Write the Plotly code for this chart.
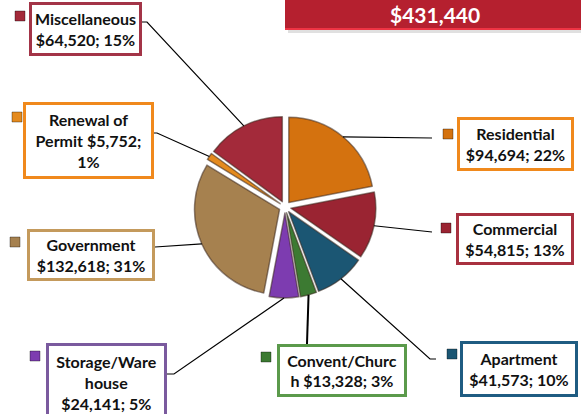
import math
import plotly.graph_objects as go

W, H = 581, 414

categories = ["Residential", "Commercial", "Apartment", "Convent/Church", "Storage/Warehouse",
              "Government", "Renewal of Permit", "Miscellaneous"]
values = [94694, 54815, 41573, 13328, 24141, 132618, 5752, 64520]
percents = [22, 13, 10, 3, 5, 31, 1, 15]
# label text as wrapped in the original data labels
label_lines = [
    ["Residential", "$94,694; 22%"],
    ["Commercial", "$54,815; 13%"],
    ["Apartment", "$41,573; 10%"],
    ["Convent/Churc", "h $13,328; 3%"],
    ["Storage/Ware", "house", "$24,141; 5%"],
    ["Government", "$132,618; 31%"],
    ["Renewal of", "Permit $5,752;", "1%"],
    ["Miscellaneous", "$64,520; 15%"],
]
total_label = "$431,440"

slice_colors = ["#D4720F", "#9A2432", "#1B5673", "#3C7A32", "#7D3CB0", "#A6814F", "#E48A1E", "#A32A3A"]
box_colors = ["#F0891C", "#A8313F", "#1F5C82", "#5B9A4B", "#7A5A9E", "#C49A5C", "#F0891C", "#A33447"]

# label placement in pixels: box (x0, y0, x1, y1), legend key centre, elbow points for the leader line
boxes = [(457, 117, 574, 171), (456, 213, 574, 265), (460, 341, 578, 397), (277, 344, 407, 397),
         (46, 343, 167, 422), (27, 229, 155, 281), (23, 102, 154, 179), (29, 2, 142, 56)]
keys = [(448, 134), (446, 228), (452, 354), (266, 357), (35, 356), (15, 242), (17, 117), (20, 16)]
elbows = [[(432, 138)], [(432, 232)], [(430, 359), (436, 359)], [(307, 344)],
          [(174, 374), (167, 374)], [(155, 247)], [(157, 133), (154, 133)], [(147, 22), (142, 22)]]

cx, cy, half = 285, 207, 91  # pie centre and outer radius in px


def px(x):
    return x / W


def py(y):
    return 1 - y / H


fig = go.Figure()
fig.add_trace(go.Pie(
    labels=categories, values=values, sort=False, direction="clockwise", rotation=0,
    pull=0.07, textinfo="none", showlegend=False,
    marker=dict(colors=slice_colors, line=dict(color="rgba(60,40,30,0.55)", width=1.5)),
    domain=dict(x=[px(cx - half), px(cx + half)], y=[py(cy + half), py(cy - half)]),
))

shapes = []
annotations = []
total = sum(values)
cum = 0
for i, v in enumerate(values):
    mid = (cum + v / 2) / total * 2 * math.pi
    cum += v
    sx = cx + half * math.sin(mid)
    sy = cy - half * math.cos(mid)
    pts = [(sx, sy)] + elbows[i]
    path = "M " + " L ".join(f"{px(x):.5f},{py(y):.5f}" for x, y in pts)
    shapes.append(dict(type="path", path=path, xref="paper", yref="paper",
                       line=dict(color="black", width=1.2 if i != 3 else 2)))

    x0, y0, x1, y1 = boxes[i]
    bw = 3
    annotations.append(dict(
        x=px((x0 + x1) / 2), y=py((y0 + y1) / 2), xref="paper", yref="paper",
        xanchor="center", yanchor="middle", showarrow=False,
        text="<br>".join(label_lines[i]), align="center",
        font=dict(family="Lato", size=16, color="#111111", weight="bold"),
        bgcolor="white", bordercolor=box_colors[i], borderwidth=bw, borderpad=0,
        width=x1 - x0 - 2 * bw, height=y1 - y0 - 2 * bw,
    ))

    kx, ky = keys[i]
    shapes.append(dict(type="rect", xref="paper", yref="paper",
                       x0=px(kx - 5), x1=px(kx + 5), y0=py(ky + 5), y1=py(ky - 5),
                       fillcolor=slice_colors[i], line=dict(color="rgba(0,0,0,0.35)", width=1)))

# total banner
shapes.append(dict(type="rect", xref="paper", yref="paper", x0=px(288), x1=px(595), y0=py(33), y1=py(3),
                   fillcolor="rgba(0,0,0,0.12)", line=dict(width=0)))
shapes.append(dict(type="rect", xref="paper", yref="paper", x0=px(285), x1=px(590), y0=py(30), y1=py(-5),
                   fillcolor="#B5202F", line=dict(width=0)))
shapes.append(dict(type="line", xref="paper", yref="paper", x0=px(285), x1=px(590), y0=py(29), y1=py(29),
                   line=dict(color="#EE3444", width=2)))
annotations.append(dict(x=px(435), y=py(14), xref="paper", yref="paper", showarrow=False,
                        xanchor="center", yanchor="middle", text=total_label,
                        font=dict(family="Lato", size=21, color="white", weight="bold")))

fig.update_layout(
    width=W, height=H, margin=dict(l=0, r=0, t=0, b=0),
    paper_bgcolor="white", plot_bgcolor="white",
    shapes=shapes, annotations=annotations,
)
fig.write_html("out.html", config={"displayModeBar": False},
               post_script="document.body.style.margin='0';")
